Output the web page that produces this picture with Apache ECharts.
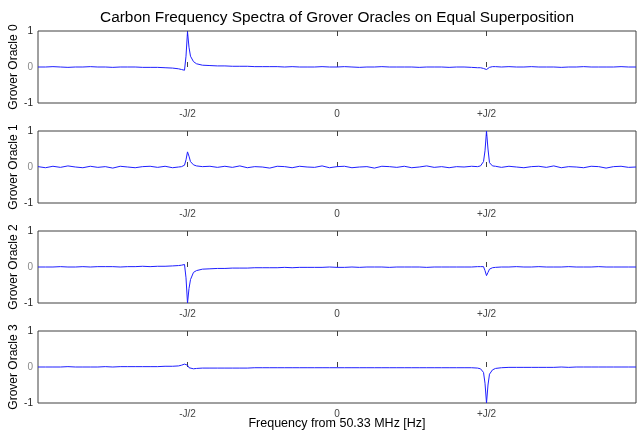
<!DOCTYPE html>
<html>
<head>
<meta charset="utf-8">
<script src="https://cdn.jsdelivr.net/npm/echarts@6/dist/echarts.min.js"></script>
<style>
html, body { margin: 0; padding: 0; background: #fff; }
#chart { width: 637px; height: 432px; }
</style>
</head>
<body>
<div id="chart"></div>
<script>
// frequency axis, in units of J/2 (-1 = -J/2, +1 = +J/2)
var freq = [-2.0, -1.95, -1.9, -1.85, -1.8, -1.75, -1.7, -1.65, -1.6, -1.55, -1.5, -1.45, -1.4, -1.35, -1.3, -1.25, -1.2,
    -1.15, -1.1, -1.06, -1.04, -1.02, -1.01, -1.0, -0.99, -0.98, -0.96, -0.94, -0.9, -0.85, -0.8,
    -0.75, -0.7, -0.65, -0.6, -0.55, -0.5, -0.45, -0.4, -0.35, -0.3, -0.25, -0.2, -0.15, -0.1, -0.05, 0.0,
    0.05, 0.1, 0.15, 0.2, 0.25, 0.3, 0.35, 0.4, 0.45, 0.5, 0.55, 0.6, 0.65, 0.7, 0.75, 0.8,
    0.85, 0.9, 0.94, 0.96, 0.98, 0.99, 1.0, 1.01, 1.02, 1.04, 1.06, 1.1, 1.15, 1.2,
    1.25, 1.3, 1.35, 1.4, 1.45, 1.5, 1.55, 1.6, 1.65, 1.7, 1.75, 1.8, 1.85, 1.9, 1.95, 2.0];

var oracle0 = [0.00, 0.00, 0.01, 0.00, -0.01, 0.00, 0.00, 0.01, 0.00, 0.00, -0.01, 0.00, 0.00, 0.00, -0.01, -0.01, -0.01,
    -0.02, -0.03, -0.05, -0.07, -0.09, 0.30, 0.98, 0.55, 0.30, 0.15, 0.09, 0.05, 0.04, 0.03,
    0.03, 0.02, 0.02, 0.02, 0.01, 0.01, 0.01, 0.01, 0.00, 0.01, 0.00, 0.00, 0.00, 0.01, 0.00, 0.00,
    0.01, 0.00, -0.01, 0.00, 0.00, 0.01, 0.00, 0.00, 0.00, 0.00, -0.01, 0.00, 0.00, 0.00, -0.01, 0.00,
    0.00, -0.01, -0.02, -0.02, -0.04, -0.06, -0.07, -0.04, -0.01, 0.01, 0.01, 0.00, 0.01, 0.00,
    0.00, 0.01, 0.00, 0.00, 0.00, -0.01, 0.00, 0.00, 0.01, 0.00, 0.00, 0.00, 0.00, 0.01, 0.00, 0.00];

var oracle1 = [0.01, -0.02, 0.02, -0.01, 0.03, 0.00, -0.02, 0.02, -0.01, 0.01, -0.03, 0.02, 0.00, -0.02, 0.01, 0.02, -0.01,
    0.02, -0.02, 0.00, 0.01, 0.05, 0.20, 0.42, 0.30, 0.15, 0.06, 0.03, 0.01, 0.02, -0.01,
    0.02, -0.01, 0.03, -0.02, 0.01, 0.00, -0.03, 0.02, 0.01, -0.02, 0.02, 0.00, -0.01, 0.03, -0.02, 0.01,
    0.02, -0.02, 0.00, 0.01, -0.03, 0.02, 0.01, -0.01, 0.02, -0.02, 0.00, 0.03, -0.01, 0.01, -0.02, 0.01,
    0.00, 0.02, 0.01, 0.03, 0.15, 0.45, 1.00, 0.50, 0.12, 0.03, 0.02, -0.01, 0.02, 0.00,
    -0.02, 0.01, 0.02, -0.01, 0.03, -0.02, 0.01, 0.00, -0.02, 0.02, 0.01, -0.03, 0.01, 0.02, -0.01, 0.00];

var oracle2 = [0.00, 0.00, 0.00, 0.01, 0.00, 0.00, 0.01, 0.00, 0.01, 0.01, 0.01, 0.00, 0.01, 0.01, 0.02, 0.01, 0.02,
    0.02, 0.03, 0.04, 0.05, 0.07, -0.30, -1.00, -0.60, -0.35, -0.15, -0.10, -0.06, -0.05, -0.04,
    -0.04, -0.03, -0.03, -0.03, -0.02, -0.02, -0.02, -0.02, -0.01, -0.02, -0.01, -0.01, -0.01, -0.01, 0.00, -0.01,
    -0.01, 0.00, -0.01, 0.00, 0.00, 0.00, -0.01, 0.00, 0.00, 0.00, 0.00, -0.01, 0.00, 0.00, 0.00, 0.00,
    0.00, 0.00, 0.01, 0.01, 0.01, -0.10, -0.24, -0.15, -0.06, -0.02, -0.01, 0.00, 0.00, 0.01,
    0.00, 0.00, 0.01, 0.00, 0.00, 0.00, 0.01, 0.00, 0.00, 0.00, 0.01, 0.00, 0.00, 0.00, 0.00, 0.00];

var oracle3 = [0.00, 0.00, 0.00, 0.00, 0.01, 0.00, 0.00, 0.00, 0.00, 0.01, 0.00, 0.01, 0.01, 0.01, 0.01, 0.01, 0.01,
    0.02, 0.02, 0.03, 0.05, 0.08, 0.10, 0.05, -0.02, -0.05, -0.05, -0.04, -0.03, -0.03, -0.03,
    -0.03, -0.03, -0.03, -0.03, -0.02, -0.02, -0.02, -0.02, -0.02, -0.02, -0.02, -0.02, -0.02, -0.02, -0.02, -0.02,
    -0.02, -0.02, -0.02, -0.02, -0.02, -0.02, -0.02, -0.02, -0.02, -0.02, -0.02, -0.02, -0.02, -0.02, -0.02, -0.02,
    -0.02, -0.02, -0.03, -0.05, -0.15, -0.45, -1.00, -0.50, -0.20, -0.08, -0.04, -0.02, -0.01, -0.01,
    -0.01, -0.01, -0.01, -0.01, -0.01, 0.00, -0.01, 0.00, 0.00, 0.00, 0.00, 0.00, 0.00, 0.00, 0.00, 0.00];

var spectra = [oracle0, oracle1, oracle2, oracle3];
var panelNames = ['Grover Oracle 0', 'Grover Oracle 1', 'Grover Oracle 2', 'Grover Oracle 3'];
var xTickValues = [-1, 0, 1];
var xTickLabels = ['-J/2', '0', '+J/2'];
var yTickValues = [-1, 0, 1];

var font = 'Liberation Sans, Arial, sans-serif';
var myChart = echarts.init(document.getElementById('chart'));

var grids = [], xAxes = [], yAxes = [], series = [];
for (var i = 0; i < 4; i++) {
    grids.push({
        left: 38,
        right: 1,
        top: 31 + 100 * i,
        height: 72,
        outerBoundsMode: 'none',
        containLabel: false,
        show: true,
        borderColor: '#404040',
        borderWidth: 1
    });
    // bottom axis with labels
    xAxes.push({
        type: 'value',
        gridIndex: i,
        min: -2,
        max: 2,
        axisLine: { show: false },
        axisTick: { show: true, inside: true, length: 5, customValues: xTickValues, lineStyle: { color: '#404040' } },
        axisLabel: {
            customValues: xTickValues,
            fontFamily: font,
            fontSize: 10,
            color: '#444',
            margin: 6,
            formatter: function (v) { return xTickLabels[xTickValues.indexOf(v)]; }
        },
        splitLine: { show: false },
        name: i === 3 ? 'Frequency from 50.33 MHz [Hz]' : '',
        nameLocation: 'middle',
        nameGap: 14,
        nameMoveOverlap: false,
        nameTextStyle: { fontFamily: font, fontSize: 12.5, color: '#000' }
    });
    // top axis, ticks only
    xAxes.push({
        type: 'value',
        gridIndex: i,
        position: 'top',
        min: -2,
        max: 2,
        axisLine: { show: false },
        axisTick: { show: true, inside: true, length: 5, customValues: xTickValues, lineStyle: { color: '#404040' } },
        axisLabel: { show: false },
        splitLine: { show: false }
    });
    yAxes.push({
        type: 'value',
        gridIndex: i,
        min: -1,
        max: 1,
        axisLine: { show: false },
        axisTick: { show: false },
        axisLabel: {
            customValues: yTickValues,
            fontFamily: font,
            fontSize: 10,
            color: '#222',
            margin: 5,
            formatter: function (v) { return v === 0 ? '{z|0}' : String(v); },
            rich: { z: { color: '#888', fontFamily: font, fontSize: 10 } }
        },
        splitLine: { show: false },
        name: panelNames[i],
        nameLocation: 'middle',
        nameGap: 18,
        nameMoveOverlap: false,
        nameRotate: 90,
        nameTextStyle: { fontFamily: font, fontSize: 12, color: '#000' }
    });
    var pts = [];
    for (var k = 0; k < freq.length; k++) pts.push([freq[k], spectra[i][k]]);
    series.push({
        type: 'line',
        xAxisIndex: 2 * i,
        yAxisIndex: i,
        data: pts,
        symbol: 'none',
        lineStyle: { width: 1, color: '#1f1fff' },
        animation: false
    });
}

myChart.setOption({
    animation: false,
    graphic: [{
        type: 'text',
        x: 337,
        y: 18,
        style: {
            text: 'Carbon Frequency Spectra of Grover Oracles on Equal Superposition',
            textAlign: 'center',
            textVerticalAlign: 'middle',
            fontFamily: font,
            fontSize: 15.4,
            fill: '#000'
        }
    }],
    grid: grids,
    xAxis: xAxes,
    yAxis: yAxes,
    series: series
});
</script>
</body>
</html>
